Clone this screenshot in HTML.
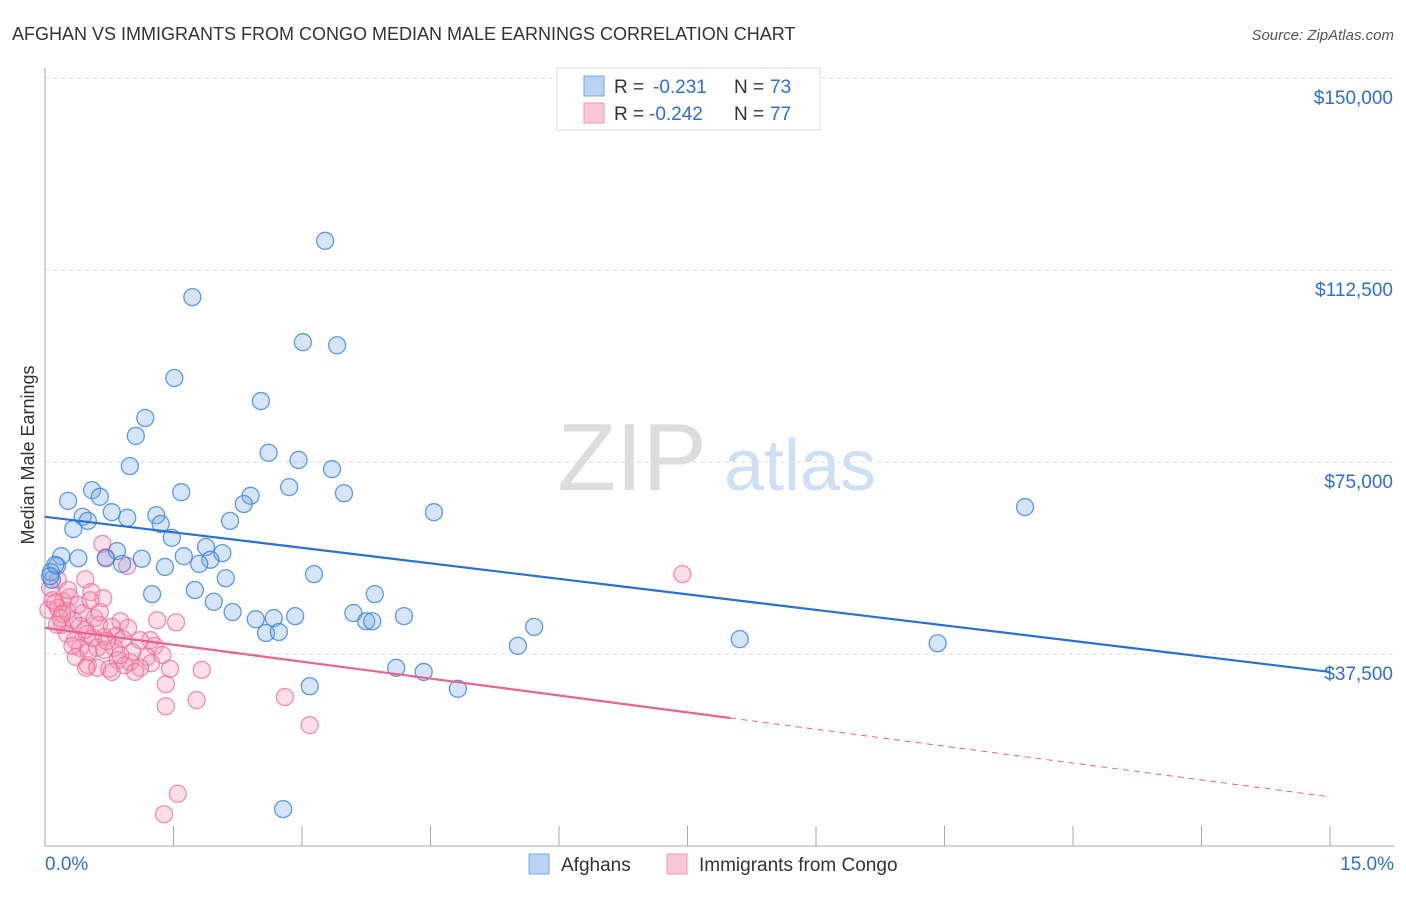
<!DOCTYPE html>
<html><head><meta charset="utf-8">
<style>
body{margin:0;background:#fff;font-family:"Liberation Sans",sans-serif;}
svg text{font-family:"Liberation Sans",sans-serif;}
</style></head>
<body>
<svg id="chart" width="1406" height="892" xmlns="http://www.w3.org/2000/svg">
<text x="12" y="40" font-size="18" fill="#333">AFGHAN VS IMMIGRANTS FROM CONGO MEDIAN MALE EARNINGS CORRELATION CHART</text>
<text x="1394" y="40" font-size="15" fill="#555" font-style="italic" text-anchor="end">Source: ZipAtlas.com</text>
<text x="0" y="0" transform="translate(34,455) rotate(-90)" font-size="18" fill="#333" text-anchor="middle">Median Male Earnings</text>
<g>
<text x="632" y="490" font-size="96" fill="#ddd" font-family="Liberation Serif" text-anchor="middle">ZIP</text>
<text x="800" y="490" font-size="72" fill="#cfe0f3" text-anchor="middle">atlas</text>
</g>
<g id="grid"></g>
<g id="axes"></g>
<g id="pts"></g>
<g id="trends"></g>
<g>
<rect x="557" y="68" width="263" height="62" fill="#fff" stroke="#ddd"/>
<rect x="584" y="76" width="20" height="20" fill="#b9d3f3" stroke="#7aaae6"/>
<rect x="584" y="103" width="20" height="20" fill="#f9c6d6" stroke="#f09ab7"/>
<text x="614" y="93" font-size="19" fill="#333">R =</text>
<text x="653" y="93" font-size="19" fill="#2f6fd0">-0.231</text>
<text x="734" y="93" font-size="19" fill="#333">N =</text>
<text x="770" y="93" font-size="19" fill="#2f6fd0">73</text>
<text x="614" y="120" font-size="19" fill="#333">R =</text>
<text x="649" y="120" font-size="19" fill="#2f6fd0">-0.242</text>
<text x="734" y="120" font-size="19" fill="#333">N =</text>
<text x="770" y="120" font-size="19" fill="#2f6fd0">77</text>
</g>
<g>
<rect x="529" y="854" width="20" height="20" fill="#b9d3f3" stroke="#7aaae6"/>
<text x="561" y="871" font-size="19" fill="#333">Afghans</text>
<rect x="667" y="854" width="20" height="20" fill="#f9c6d6" stroke="#f09ab7"/>
<text x="699" y="871" font-size="19" fill="#333">Immigrants from Congo</text>
</g>
</svg>
<script>
const yTicks=[37500,75000,112500,150000];
const yTickLabels=["$37,500","$75,000","$112,500","$150,000"];
const xTickLabels=["0.0%","15.0%"];
const blueX=[3.27,1.72,3.01,3.41,1.51,2.52,1.17,1.06,2.61,0.99,2.96,3.35,0.55,1.59,2.85,3.49,0.27,0.64,2.40,2.32,0.44,0.78,0.96,1.30,2.16,4.54,11.44,0.50,0.33,1.35,1.48,1.88,2.07,1.62,1.93,0.19,0.39,0.84,1.13,0.71,0.90,1.40,1.80,0.14,0.07,0.08,2.11,3.14,1.25,1.75,3.85,1.97,2.19,2.46,2.67,2.92,3.60,4.19,3.75,3.82,5.71,2.58,2.73,5.52,8.11,10.42,4.10,4.42,4.82,3.09,2.78,0.12,0.06];
const blueY=[118.2,107.2,98.4,97.8,91.4,86.9,83.6,80.1,76.8,74.2,75.4,73.6,69.5,69.1,70.1,68.9,67.4,68.2,68.4,66.8,64.3,65.2,64.1,64.6,63.5,65.2,66.2,63.5,61.9,62.9,60.2,58.4,57.2,56.6,55.9,56.6,56.2,57.6,56.1,56.2,55.1,54.5,55.1,54.7,53.5,52.0,52.3,53.1,49.2,50.0,49.2,47.7,45.7,44.3,44.5,44.9,45.5,44.9,43.9,43.9,42.8,41.6,41.8,39.1,40.4,39.6,34.8,34.0,30.7,31.2,7.2,54.9,52.7];
const pinkX=[0.67,0.96,0.71,0.47,0.15,0.06,0.09,0.21,0.29,0.54,0.68,0.04,0.15,0.26,0.44,0.58,0.33,0.88,1.31,1.53,0.20,0.41,0.63,0.78,0.97,0.49,0.69,0.83,0.91,0.26,0.35,1.28,0.61,0.81,1.02,0.41,0.51,0.69,1.19,1.37,0.85,0.36,0.99,1.24,0.50,0.61,0.75,0.93,1.11,1.46,1.83,0.78,0.48,1.05,1.41,2.80,1.77,1.41,3.09,7.44,1.55,1.39,0.12,0.18,0.32,0.72,0.56,0.88,0.39,0.27,0.47,1.23,0.64,1.11,0.20,0.53,0.14];
const pinkY=[59.0,54.7,56.4,52.1,52.0,50.4,48.0,47.8,48.6,49.6,48.4,46.1,46.5,45.9,45.5,44.5,44.1,43.9,44.1,43.7,43.2,43.0,43.2,42.8,42.6,41.4,40.8,41.0,40.4,41.4,40.2,39.1,38.7,38.7,37.9,38.7,37.9,38.3,36.9,37.3,36.3,36.9,35.9,35.7,35.3,34.8,34.6,35.3,34.8,34.6,34.4,34.0,34.8,34.0,31.6,29.1,28.5,27.3,23.6,53.1,10.2,6.2,47.5,44.5,39.1,40.0,40.6,37.3,47.1,50.0,42.2,40.2,45.7,40.2,45.3,48.0,43.2];
const blueTrend=[64.3,34.0];
const pinkTrend=[42.6,9.6];
const pinkSolidEnd=8.0;

const NS="http://www.w3.org/2000/svg";
const X=p=>45+p/15*1285;
const Y=v=>846-v/37500*192;
const Yk=k=>Y(k*1000);
function mk(tag,attrs,parent){const e=document.createElementNS(NS,tag);for(const k in attrs)e.setAttribute(k,attrs[k]);parent.appendChild(e);return e;}
const grid=document.getElementById('grid'),axes=document.getElementById('axes'),pts=document.getElementById('pts'),tr=document.getElementById('trends');
yTicks.forEach((t,i)=>{
 const l=mk('line',{x1:45,x2:1394,y1:Y(t),y2:Y(t),stroke:'#ddd','stroke-dasharray':'4,4'},grid);
 
 
 const tx=mk('text',{x:1393,y:Y(t)+26,'font-size':19,fill:'#2f6fd0','text-anchor':'end'},axes);
 tx.textContent=yTickLabels[i];
 
 
});
const ya=mk('line',{x1:45,x2:45,y1:68,y2:846,stroke:'#aaa'},axes);


const xa=mk('line',{x1:45,x2:1394,y1:846,y2:846,stroke:'#aaa'},axes);


for(let i=1;i<=10;i++){
 const t=mk('line',{x1:X(i*1.5),x2:X(i*1.5),y1:826,y2:846,stroke:'#aaa'},axes);
 
 
}
[[0,45,'start'],[15,1394,'end']].forEach((a,i)=>{
 const tx=mk('text',{x:a[1],y:870,'font-size':19,fill:'#2f6fd0','text-anchor':a[2]},axes);
 tx.textContent=xTickLabels[i];
 
 
});
function dots(xs,ys,fill,stroke,name){
 xs.forEach((x,i)=>{
  const c=mk('circle',{cx:X(x),cy:Yk(ys[i]),r:8.5,fill:fill,stroke:stroke,'stroke-width':1.3},pts);
  
  
 });
}
dots(pinkX,pinkY,'rgba(244,150,182,0.3)','rgba(236,110,150,0.75)','congo-point');
dots(blueX,blueY,'rgba(120,170,235,0.3)','rgba(60,130,220,0.8)','afghan-point');
const bl=mk('line',{x1:X(0),y1:Yk(blueTrend[0]),x2:X(15),y2:Yk(blueTrend[1]),stroke:'#2a6fd6','stroke-width':2.2},tr);


const pAt=p=>pinkTrend[0]+(pinkTrend[1]-pinkTrend[0])*p/15;
const ps=mk('line',{x1:X(0),y1:Yk(pinkTrend[0]),x2:X(pinkSolidEnd),y2:Yk(pAt(pinkSolidEnd)),stroke:'#e8648f','stroke-width':2.2},tr);


const pd=mk('line',{x1:X(pinkSolidEnd),y1:Yk(pAt(pinkSolidEnd)),x2:X(15),y2:Yk(pinkTrend[1]),stroke:'#e8648f','stroke-width':1,'stroke-dasharray':'6,5'},tr);


</script>
</body></html>
